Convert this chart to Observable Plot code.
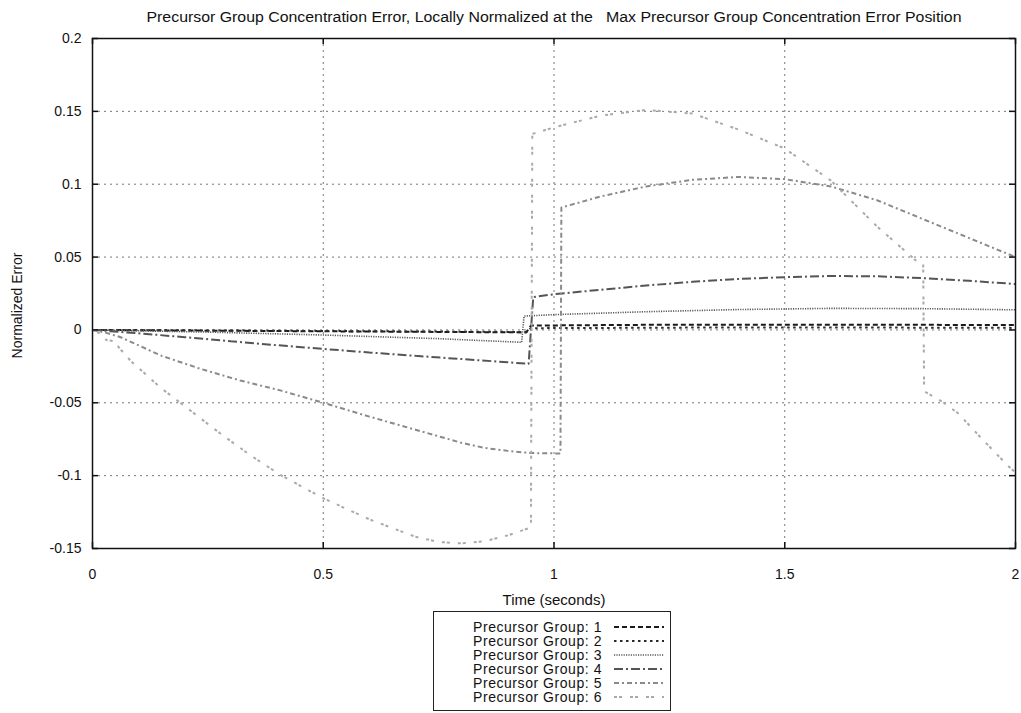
<!DOCTYPE html>
<html>
<head>
<meta charset="utf-8">
<script src="https://cdn.jsdelivr.net/npm/d3@7"></script>
<script src="https://cdn.jsdelivr.net/npm/@observablehq/plot@0.6"></script>
<style>
  body { margin: 0; background: #fff; }
  #wrap { position: relative; width: 1021px; height: 713px; overflow: hidden;
          font-family: "Liberation Sans", Arial, Helvetica, sans-serif; }
  #legend { position: absolute; left: 433px; top: 611px; width: 238px; height: 100px;
            border: 1.5px solid #222; box-sizing: border-box; padding-top: 7.5px; background: #fff; }
  .row { display: flex; align-items: center; height: 14.1px; }
  .row span { display: inline-block; width: 168px; text-align: right; font-size: 14px; line-height: 14px;
              letter-spacing: 0.55px; color: #111; }
  .row svg { margin-left: 12px; }
</style>
</head>
<body>
<div id="wrap"></div>
<script>
// Time in seconds, normalized concentration error per precursor group
const group1 = [[0,0],[0.3,-0.0006],[0.6,-0.0011],[0.94,-0.0017],[0.95,0.003],[1.2,0.0035],[1.5,0.0036],[1.8,0.0035],[2,0.0033]];
const group2 = [[0,0],[0.3,-0.0004],[0.6,-0.0009],[0.94,-0.0014],[0.95,0.0012],[1.3,0.0016],[1.6,0.0017],[2,0.0014]];
const group3 = [[0,0],[0.25,-0.0015],[0.5,-0.0035],[0.75,-0.006],[0.93,-0.0085],[0.935,0.0095],[1.0,0.0105],[1.2,0.0125],[1.4,0.014],[1.6,0.0148],[1.8,0.0146],[2,0.0138]];
const group4 = [[0,0],[0.1,-0.0023],[0.2,-0.005],[0.3,-0.0078],[0.4,-0.0105],[0.5,-0.013],[0.6,-0.0155],[0.7,-0.0178],[0.8,-0.02],[0.9,-0.0222],[0.945,-0.0233],[0.955,0.0225],[1.0,0.0245],[1.1,0.0275],[1.2,0.0305],[1.3,0.033],[1.4,0.035],[1.5,0.0362],[1.6,0.037],[1.7,0.0368],[1.8,0.0355],[1.9,0.0337],[2,0.0315]];
const group5 = [[0,0],[0.03,-0.002],[0.061,-0.005],[0.15,-0.0178],[0.234,-0.0267],[0.32,-0.0347],[0.407,-0.0415],[0.5,-0.05],[0.6,-0.0595],[0.7,-0.0685],[0.8,-0.0775],[0.85,-0.081],[0.9,-0.083],[0.95,-0.0845],[1.014,-0.0848],[1.016,0.084],[1.1,0.0915],[1.2,0.0985],[1.3,0.103],[1.4,0.105],[1.5,0.1035],[1.6,0.0985],[1.7,0.089],[1.8,0.076],[1.9,0.063],[2,0.05]];
const group6 = [[0,0],[0.02,-0.003],[0.03,-0.007],[0.05,-0.0078],[0.057,-0.012],[0.082,-0.021],[0.147,-0.0395],[0.212,-0.0553],[0.277,-0.0711],[0.342,-0.086],[0.407,-0.0995],[0.5,-0.1155],[0.6,-0.13],[0.7,-0.142],[0.75,-0.1455],[0.8,-0.1465],[0.85,-0.145],[0.9,-0.141],[0.95,-0.1355],[0.953,0.1345],[1.0,0.139],[1.1,0.147],[1.2,0.151],[1.3,0.1485],[1.4,0.1375],[1.5,0.1245],[1.6,0.1025],[1.7,0.071],[1.79,0.046],[1.8,0.045],[1.802,-0.042],[1.84,-0.049],[1.875,-0.057],[1.925,-0.074],[1.983,-0.093],[2,-0.098]];

const groups = [group1, group2, group3, group4, group5, group6];
const groupNames = ["Precursor Group: 1","Precursor Group: 2","Precursor Group: 3","Precursor Group: 4","Precursor Group: 5","Precursor Group: 6"];
const groupColors = ["#1a1a1a","#2a2a2a","#5a5a5a","#555555","#8a8a8a","#aaaaaa"];
const groupDashes = ["5,3","2.5,3.5","1.2,1.2","9,3,2,3","5,3,2,3","3,2,3,8"];
const groupWidths = [2, 2, 1.6, 2, 2, 2];

const xTicks = [0, 0.5, 1, 1.5, 2];
const yTicks = [-0.15, -0.1, -0.05, 0, 0.05, 0.1, 0.15, 0.2];

const titleText = "Precursor Group Concentration Error, Locally Normalized at the   Max Precursor Group Concentration Error Position";
const xLabel = "Time (seconds)";
const yLabel = "Normalized Error";

const W = 1021, H = 610, mL = 92, mR = 6, mT = 38, mB = 62;
const frameW = W - mL - mR, frameH = H - mT - mB, tickLen = 6;
const fmt = d => String(+d.toFixed(2));

const gridStyle = {stroke: "#777", strokeWidth: 1, strokeDasharray: "2,4"};

const chart = Plot.plot({
  width: W, height: H,
  marginLeft: mL, marginRight: mR, marginTop: mT, marginBottom: mB,
  x: {domain: [0, 2]},
  y: {domain: [-0.15, 0.2]},
  style: {fontFamily: "'Liberation Sans', Arial, sans-serif", fontSize: "14px", background: "#fff", color: "#111"},
  marks: [
    Plot.ruleX(xTicks.slice(1, -1), gridStyle),
    Plot.ruleY(yTicks.slice(1, -1), gridStyle),
    ...groups.map((g, i) => Plot.line(g, {
      x: d => d[0], y: d => d[1],
      stroke: groupColors[i], strokeWidth: groupWidths[i],
      strokeDasharray: groupDashes[i], strokeLinejoin: "miter", strokeLinecap: "butt"
    })),
    Plot.frame({stroke: "#111", strokeWidth: 1.5}),
    // inward ticks on all four sides
    Plot.tickX(xTicks, {x: d => d, insetBottom: frameH - tickLen, stroke: "#111", strokeWidth: 1.5}),
    Plot.tickX(xTicks, {x: d => d, insetTop: frameH - tickLen, stroke: "#111", strokeWidth: 1.5}),
    Plot.tickY(yTicks, {y: d => d, insetRight: frameW - tickLen, stroke: "#111", strokeWidth: 1.5}),
    Plot.tickY(yTicks, {y: d => d, insetLeft: frameW - tickLen, stroke: "#111", strokeWidth: 1.5}),
    Plot.axisX(xTicks, {tickSize: 0, tickPadding: 21, tickFormat: fmt, fontSize: 14, label: null}),
    Plot.axisY(yTicks, {tickSize: 0, tickPadding: 11, tickFormat: fmt, fontSize: 14, label: null}),
    Plot.text([xLabel], {frameAnchor: "bottom", lineAnchor: "middle", textAnchor: "middle", dy: 52, fontSize: 15}),
    Plot.text([yLabel], {frameAnchor: "left", lineAnchor: "middle", textAnchor: "middle", dx: -75, dy: 12, rotate: -90, fontSize: 14}),
    Plot.text([titleText], {frameAnchor: "top", lineAnchor: "middle", textAnchor: "middle", dy: -21, fontSize: 14, className: "chart-title"})
  ]
});

document.getElementById("wrap").appendChild(chart);

// keep the run of spaces in the title and fit it to its width
d3.select(chart).selectAll(".chart-title text")
  .style("white-space", "pre")
  .attr("textLength", 815)
  .attr("lengthAdjust", "spacingAndGlyphs");

// legend box below the plot
const legend = d3.select("#wrap").append("div").attr("id", "legend");
groupNames.forEach((name, i) => {
  const row = legend.append("div").attr("class", "row");
  row.append("span").text(name);
  const s = row.append("svg").attr("width", 50).attr("height", 14);
  s.append("line").attr("x1", 0).attr("x2", 50).attr("y1", 7).attr("y2", 7)
    .attr("stroke", groupColors[i]).attr("stroke-width", groupWidths[i])
    .attr("stroke-dasharray", groupDashes[i]);
});
</script>
</body>
</html>
